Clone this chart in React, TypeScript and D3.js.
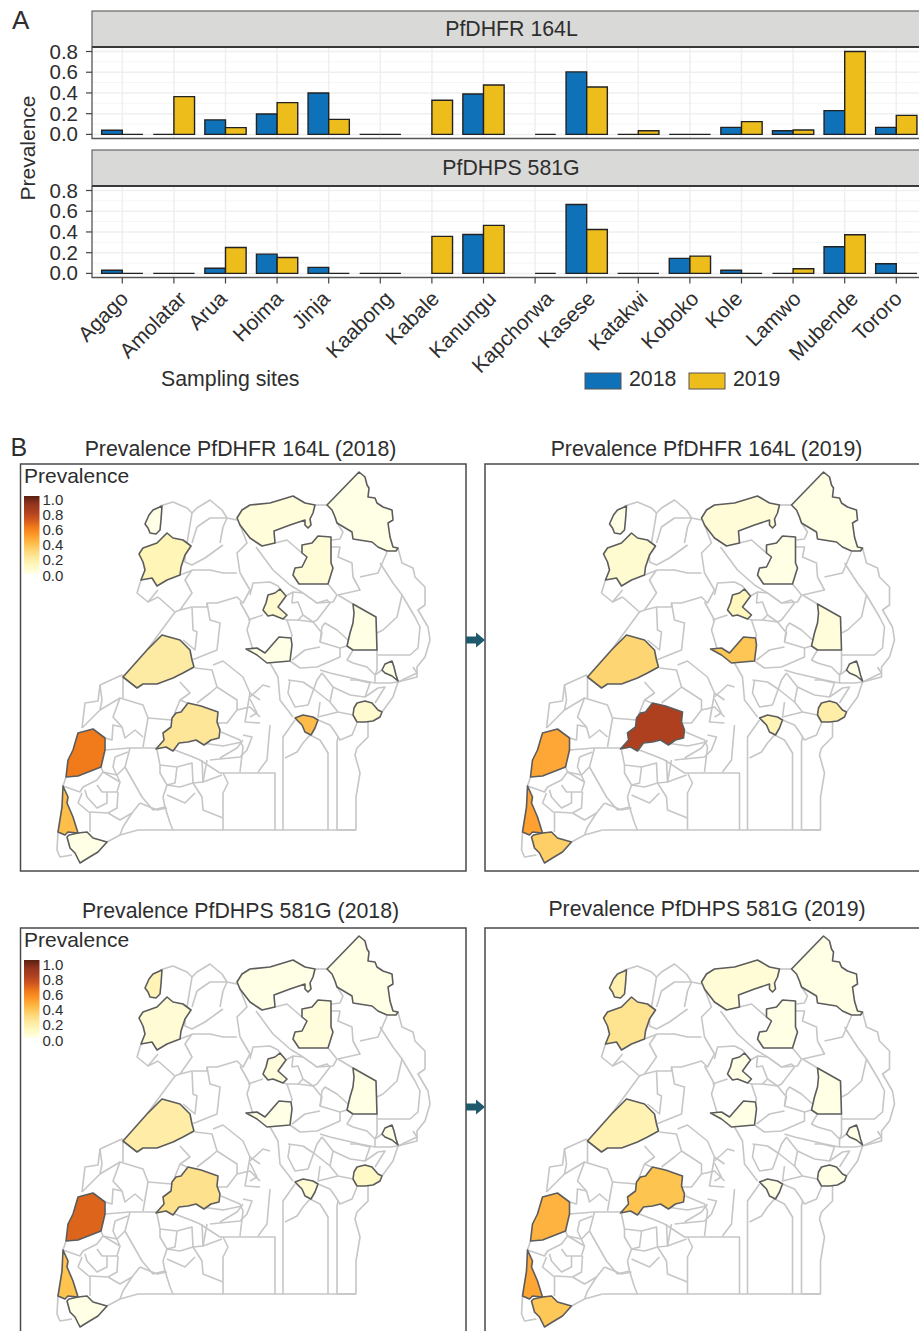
import React, { useEffect, useRef } from 'react';
import * as d3 from 'd3';

const sites = ['Agago', 'Amolatar', 'Arua', 'Hoima', 'Jinja', 'Kaabong', 'Kabale', 'Kanungu', 'Kapchorwa', 'Kasese', 'Katakwi', 'Koboko', 'Kole', 'Lamwo', 'Mubende', 'Tororo'];
const years = ['2018', '2019'];
const yTicks = [0, 0.2, 0.4, 0.6, 0.8];
const yMinorTicks = [0.1, 0.3, 0.5, 0.7];
const legendTicks = [0, 0.2, 0.4, 0.6, 0.8, 1];
const rampColors = ['#ffffe5', '#fff7bc', '#fee391', '#fec44f', '#fe9929', '#ee7318', '#b84520', '#a03820', '#5a2012'];

// null = site not sampled that year
const dhfr2018 = [0.04, 0, 0.14, 0.197, 0.4, 0, null, 0.39, null, 0.603, 0, 0, 0.068, 0.035, 0.229, 0.068];
const dhfr2019 = [0, 0.365, 0.065, 0.307, 0.145, 0, 0.33, 0.477, 0, 0.458, 0.035, 0, 0.123, 0.042, 0.8, 0.184];
const dhps2018 = [0.03, 0, 0.05, 0.186, 0.058, 0, null, 0.376, null, 0.665, 0, 0.145, 0.03, 0, 0.257, 0.093];
const dhps2019 = [0, 0, 0.25, 0.154, 0, 0, 0.357, 0.463, 0, 0.424, 0, 0.167, 0, 0.045, 0.373, 0];

// district outlines, in map units
const districtShapes: { [key: string]: number[][] } = {
  Koboko: [[145, 524], [149, 515], [153, 510], [162, 506], [161, 520], [160, 530], [156, 534], [150, 533], [148, 528]],
  Arua: [[139, 554], [143, 548], [157, 543], [167, 533], [173, 538], [183, 540], [191, 546], [185, 555], [181, 567], [180, 575], [167, 580], [157, 586], [152, 578], [141, 580], [145, 570], [143, 562]],
  Lamwo: [[237, 518], [242, 510], [250, 505], [270, 503], [293, 496], [305, 503], [315, 505], [313, 513], [310, 519], [311, 525], [308, 528], [305, 525], [305, 520], [290, 525], [274, 531], [275, 543], [262, 546], [250, 538], [240, 525]],
  Kaabong: [[327, 505], [359, 472], [365, 477], [367, 485], [369, 488], [368, 497], [375, 498], [377, 503], [383, 507], [392, 510], [393, 520], [388, 523], [390, 537], [393, 547], [398, 548], [396, 551], [387, 551], [378, 547], [372, 542], [353, 539], [352, 532], [337, 523], [335, 517], [332, 510]],
  Agago: [[302, 545], [312, 543], [318, 536], [331, 537], [331, 563], [333, 568], [328, 584], [299, 584], [293, 575], [295, 568], [302, 567], [307, 557], [302, 553]],
  Kole: [[280, 589], [286, 596], [278, 607], [287, 615], [283, 619], [273, 615], [268, 616], [263, 610], [266, 603], [268, 595], [275, 593]],
  Amolatar: [[246, 649], [257, 648], [265, 653], [279, 637], [291, 638], [292, 645], [290, 661], [267, 663], [257, 655]],
  Katakwi: [[353, 604], [376, 617], [377, 650], [353, 650], [347, 646], [350, 633], [353, 623], [354, 613]],
  Kapchorwa: [[382, 670], [385, 664], [392, 661], [394, 667], [396, 675], [398, 681], [392, 676], [385, 673]],
  Tororo: [[353, 715], [354, 708], [357, 703], [365, 701], [372, 703], [378, 710], [382, 712], [380, 717], [373, 721], [365, 722], [357, 722]],
  Jinja: [[295, 718], [303, 715], [313, 717], [318, 720], [315, 728], [311, 735], [305, 732], [302, 725]],
  Hoima: [[123, 677], [137, 688], [143, 684], [157, 684], [173, 678], [183, 673], [194, 667], [192, 660], [190, 650], [180, 640], [162, 635], [147, 650]],
  Mubende: [[156, 749], [164, 740], [163, 733], [171, 727], [172, 718], [176, 713], [181, 712], [188, 703], [201, 706], [218, 712], [217, 722], [220, 730], [219, 738], [211, 740], [204, 745], [196, 740], [188, 742], [179, 743], [173, 751], [166, 747]],
  Kasese: [[66, 777], [68, 760], [73, 750], [78, 733], [93, 729], [105, 738], [105, 750], [101, 767], [78, 776]],
  Kanungu: [[63, 786], [68, 797], [67, 803], [73, 817], [78, 833], [68, 832], [65, 835], [58, 832], [62, 807]],
  Kabale: [[67, 837], [69, 835], [78, 833], [87, 832], [93, 838], [107, 842], [98, 852], [88, 858], [80, 863], [75, 853], [70, 848]],
};

// grey boundaries of the other districts, in map units
const boundaryLines: number[][][] = [
  [[160, 506], [173, 502], [187, 508], [192, 513], [197, 508], [210, 500], [222, 510], [227, 518], [237, 520]],
  [[192, 513], [187, 543]],
  [[192, 543], [197, 527], [210, 518], [227, 518], [223, 527], [220, 543]],
  [[185, 555], [185, 562], [192, 565], [205, 558], [223, 545]],
  [[180, 575], [193, 570], [210, 570], [223, 573], [237, 573]],
  [[240, 525], [247, 543], [237, 553], [240, 573]],
  [[141, 580], [137, 593], [148, 602], [158, 590]],
  [[158, 597], [175, 612], [180, 610], [192, 593], [185, 580], [192, 570]],
  [[148, 602], [158, 597]],
  [[175, 612], [147, 650]],
  [[192, 607], [193, 630], [197, 632], [195, 650], [183, 640]],
  [[180, 610], [192, 607], [207, 607], [207, 603], [217, 603], [237, 597], [243, 603], [250, 590], [240, 573]],
  [[207, 603], [210, 620], [220, 623], [217, 650], [192, 660]],
  [[248, 620], [263, 615]],
  [[240, 602], [250, 620], [247, 630], [253, 650]],
  [[315, 505], [327, 505]],
  [[337, 523], [343, 532], [340, 539], [332, 540]],
  [[331, 547], [340, 547], [338, 557], [352, 563], [353, 577], [360, 590], [338, 595]],
  [[256, 547], [273, 570], [290, 585]],
  [[275, 543], [287, 540], [302, 553]],
  [[328, 584], [337, 595], [333, 602], [317, 603], [303, 593], [290, 585]],
  [[360, 577], [378, 573], [387, 552]],
  [[380, 563], [393, 583], [402, 595], [397, 617], [383, 630], [377, 633]],
  [[398, 548], [402, 563], [413, 568], [415, 577], [425, 587], [425, 605], [418, 610], [428, 627], [430, 640], [425, 657], [417, 667], [417, 677], [398, 682]],
  [[402, 595], [415, 617], [420, 627], [418, 648], [410, 655], [397, 655], [377, 655]],
  [[338, 595], [353, 604]],
  [[347, 646], [340, 648], [320, 642], [322, 627], [325, 623], [337, 630], [348, 640]],
  [[250, 595], [253, 583], [270, 582], [278, 586], [280, 589]],
  [[286, 596], [293, 592], [303, 593]],
  [[293, 592], [292, 603], [298, 602], [303, 615], [298, 620], [287, 620], [283, 619]],
  [[317, 603], [327, 600], [330, 603], [317, 620], [313, 622], [303, 615]],
  [[298, 620], [313, 622], [322, 633], [320, 642]],
  [[287, 620], [292, 635], [291, 638]],
  [[292, 660], [305, 650], [320, 647]],
  [[290, 661], [300, 668], [317, 667], [340, 657], [340, 648]],
  [[353, 650], [347, 660], [353, 663], [367, 667], [375, 675]],
  [[377, 650], [377, 670], [375, 675]],
  [[270, 663], [278, 677], [280, 700], [293, 717]],
  [[290, 680], [288, 693], [295, 707], [308, 705], [317, 680], [322, 673]],
  [[288, 680], [303, 682], [315, 690], [330, 702], [338, 712]],
  [[322, 673], [333, 687], [330, 702]],
  [[320, 702], [318, 717], [338, 712], [353, 715]],
  [[333, 687], [350, 695], [365, 697], [378, 688], [385, 687], [375, 703]],
  [[350, 680], [357, 680], [370, 683], [365, 697]],
  [[320, 670], [330, 673], [360, 680], [375, 683], [390, 683], [398, 682]],
  [[382, 670], [375, 675], [375, 683]],
  [[398, 682], [417, 673], [413, 667]],
  [[398, 682], [393, 697], [382, 712]],
  [[318, 720], [330, 725], [335, 732], [340, 740], [352, 735], [357, 723]],
  [[368, 722], [368, 737], [357, 748], [355, 755], [360, 773], [356, 797], [356, 830], [337, 830], [337, 742], [338, 737]],
  [[310, 735], [320, 740], [328, 753], [328, 830]],
  [[295, 720], [283, 737], [283, 830]],
  [[310, 735], [303, 743], [297, 752], [285, 758]],
  [[223, 773], [275, 773], [275, 830]],
  [[138, 830], [356, 830]],
  [[270, 725], [267, 760], [258, 772]],
  [[250, 699], [257, 713], [250, 717]],
  [[250, 697], [263, 685], [270, 687]],
  [[123, 677], [122, 675], [100, 685], [98, 701], [85, 703], [82, 728]],
  [[100, 710], [82, 728]],
  [[100, 685], [102, 700], [100, 710], [120, 698], [143, 705], [148, 718], [143, 747]],
  [[123, 677], [123, 698]],
  [[120, 698], [113, 717], [122, 727], [125, 738], [135, 730], [143, 737]],
  [[148, 718], [172, 720]],
  [[105, 738], [112, 740], [113, 725], [122, 727]],
  [[105, 750], [130, 748], [157, 748]],
  [[130, 748], [125, 767], [142, 797], [153, 810], [165, 807], [163, 797], [167, 785]],
  [[157, 750], [160, 765], [177, 767], [175, 783], [167, 785], [160, 773], [160, 765]],
  [[167, 747], [193, 757], [200, 760], [220, 773], [223, 773]],
  [[177, 767], [192, 763], [193, 783], [203, 782], [202, 760]],
  [[207, 760], [203, 782], [222, 775]],
  [[167, 785], [180, 787], [193, 783], [202, 797], [203, 810], [223, 818]],
  [[167, 795], [185, 803], [195, 793]],
  [[165, 807], [170, 823], [173, 830]],
  [[120, 835], [138, 830]],
  [[223, 773], [228, 783], [223, 793], [223, 830]],
  [[66, 777], [63, 786], [80, 792], [83, 787], [97, 780], [103, 772], [101, 767]],
  [[103, 772], [117, 775], [125, 767]],
  [[115, 757], [128, 752]],
  [[115, 757], [113, 767], [120, 782], [103, 772]],
  [[97, 785], [102, 792], [117, 792], [120, 782]],
  [[118, 792], [117, 808], [108, 813], [90, 812]],
  [[82, 793], [78, 803], [90, 813], [90, 832]],
  [[107, 792], [107, 803], [97, 808], [87, 797], [85, 790]],
  [[108, 813], [120, 820], [132, 813], [140, 803]],
  [[132, 813], [123, 827], [120, 835]],
  [[140, 803], [157, 810], [167, 808]],
  [[107, 842], [120, 835]],
  [[58, 832], [57, 850], [60, 857], [72, 855]],
  [[217, 723], [227, 723], [237, 710], [250, 707], [260, 717]],
  [[180, 682], [190, 693], [180, 700], [172, 720]],
  [[180, 700], [187, 703]],
  [[195, 668], [212, 670], [217, 687], [210, 693], [197, 703]],
  [[217, 687], [237, 700], [237, 710]],
  [[213, 665], [223, 661], [243, 677], [250, 693], [260, 700]],
  [[250, 693], [245, 722], [260, 723]],
  [[221, 732], [240, 740], [243, 747], [240, 772]],
  [[243, 735], [252, 737], [247, 750], [240, 757], [210, 760]],
  [[220, 758], [237, 748], [243, 740]],
  [[202, 743], [223, 746], [242, 742]],
];

const font = '"Liberation Sans", Arial, sans-serif';
const inkColor = '#2e2e2e';
const yearColors = ['#0f71b8', '#edbd1c'];

const App: React.FC = () => {
  const chartRef = useRef<SVGSVGElement | null>(null);

  useEffect(() => {
    renderChart();
  }, []);

  const renderChart = () => {
    d3.select(chartRef.current).selectAll('*').remove();
    const svg = d3.select(chartRef.current).attr('width', 919).attr('height', 1331);

    const addText = (x: number, y: number, label: string, size: number, anchor = 'start') =>
      svg.append('text')
        .attr('x', x)
        .attr('y', y)
        .attr('text-anchor', anchor)
        .attr('font-family', font)
        .attr('font-size', size)
        .attr('fill', inkColor)
        .text(label);

    // --- panel A: bars ---
    const x = d3.scaleBand<string>()
      .domain(sites)
      .range([96.5, 922.1])
      .paddingInner(0.2)
      .paddingOuter(0.1);
    const xYear = d3.scaleBand<string>().domain(years).range([0, x.bandwidth()]);
    const panelLeft = 92;
    const panelRight = 919;

    const drawFacet = (title: string, titleX: number, top: number, values: (number | null)[][], showX: boolean) => {
      const stripBottom = top + 36;
      const bottom = stripBottom + 91.5;
      const y = d3.scaleLinear().domain([0, 0.8]).range([stripBottom + 87.4, stripBottom + 4.5]);
      const g = svg.append('g');

      g.append('rect')
        .attr('x', panelLeft).attr('y', top)
        .attr('width', panelRight - panelLeft + 4).attr('height', 36)
        .attr('fill', '#d9d9d8').attr('stroke', '#666').attr('stroke-width', 1.2);

      yMinorTicks.forEach(t => {
        g.append('line').attr('x1', panelLeft).attr('x2', panelRight).attr('y1', y(t)).attr('y2', y(t))
          .attr('stroke', '#f5f5f5').attr('stroke-width', 1);
      });
      yTicks.forEach(t => {
        g.append('line').attr('x1', panelLeft).attr('x2', panelRight).attr('y1', y(t)).attr('y2', y(t))
          .attr('stroke', '#efefef').attr('stroke-width', 1.5);
      });
      sites.forEach(s => {
        const cx = x(s)! + x.bandwidth() / 2;
        g.append('line').attr('x1', cx).attr('x2', cx).attr('y1', stripBottom).attr('y2', bottom)
          .attr('stroke', '#efefef').attr('stroke-width', 1.5);
      });

      values.forEach((series, i) => {
        sites.forEach((s, j) => {
          const v = series[j];
          if (v === null) return;
          const x0 = x(s)! + xYear(years[i])!;
          // path rather than rect, a zero bar still shows as a dark line
          g.append('path')
            .attr('d', `M${x0},${y(0)}V${y(v)}H${x0 + xYear.bandwidth()}V${y(0)}Z`)
            .attr('fill', yearColors[i])
            .attr('stroke', '#222')
            .attr('stroke-width', 1.4);
        });
      });

      g.append('line').attr('x1', panelLeft).attr('x2', panelRight).attr('y1', stripBottom).attr('y2', stripBottom)
        .attr('stroke', '#3a3a3a').attr('stroke-width', 1.8);
      g.append('path')
        .attr('d', `M${panelLeft},${stripBottom}V${bottom}H${panelRight}`)
        .attr('fill', 'none').attr('stroke', '#555').attr('stroke-width', 1.3);

      yTicks.forEach(t => {
        g.append('line').attr('x1', panelLeft - 6).attr('x2', panelLeft).attr('y1', y(t)).attr('y2', y(t))
          .attr('stroke', '#444').attr('stroke-width', 1.2);
        addText(78, y(t) + 7, t.toFixed(1), 20.5, 'end');
      });

      addText(titleX, top + 25, title, 21.3, 'middle');

      if (showX) {
        sites.forEach(s => {
          const cx = x(s)! + x.bandwidth() / 2;
          g.append('line').attr('x1', cx).attr('x2', cx).attr('y1', bottom).attr('y2', bottom + 6)
            .attr('stroke', '#444').attr('stroke-width', 1.2);
          const label = svg.append('text')
            .attr('text-anchor', 'end')
            .attr('font-family', font)
            .attr('font-size', 21)
            .attr('fill', inkColor)
            .text(s);
          // longer names sit further right of their tick, tops stay level
          const len = (label.node() as SVGTextElement).getComputedTextLength();
          label.attr('transform', `translate(${cx + len * 0.277 - 9.5},${bottom + 22.5}) rotate(-45)`);
        });
      }
    };

    drawFacet('PfDHFR 164L', 511.5, 11, [dhfr2018, dhfr2019], false);
    drawFacet('PfDHPS 581G', 511, 150, [dhps2018, dhps2019], true);

    addText(12, 29, 'A', 26);
    addText(10.5, 456, 'B', 25);
    addText(0, 0, 'Prevalence', 21, 'middle')
      .attr('transform', 'translate(35,148) rotate(-90)')
      .attr('x', 0).attr('y', 0);
    addText(161, 386, 'Sampling sites', 21.3);

    const legendX = [585, 689];
    const legendLabelX = [629, 733];
    years.forEach((yr, i) => {
      svg.append('rect')
        .attr('x', legendX[i]).attr('y', 373)
        .attr('width', 36).attr('height', 16)
        .attr('fill', yearColors[i]).attr('stroke', '#555').attr('stroke-width', 1);
      addText(legendLabelX[i], 386, yr, 21.3);
    });

    // --- panel B: maps ---
    const color = d3.scaleSequential(d3.piecewise(d3.interpolateRgb, rampColors)).domain([0, 1]);

    const defs = svg.append('defs');
    const gradient = defs.append('linearGradient')
      .attr('id', 'prevalence-ramp')
      .attr('x1', 0).attr('x2', 0).attr('y1', 1).attr('y2', 0);
    d3.range(0, 1.01, 0.1).forEach(t => {
      gradient.append('stop').attr('offset', t).attr('stop-color', color(t));
    });

    const drawMap = (title: string, titleX: number, titleY: number, left: number, top: number, width: number, height: number, values: (number | null)[], legendNudge: number | null) => {
      addText(titleX, titleY, title, 21.3, 'middle');

      const dx = left - 20.5;
      const dy = top - 464;
      const mapX = d3.scaleLinear().domain([0, 919]).range([dx, 919 + dx]);
      const mapY = d3.scaleLinear().domain([0, 1331]).range([dy, 1331 + dy]);
      const line = d3.line<number[]>().x(d => mapX(d[0])).y(d => mapY(d[1]));

      const g = svg.append('g');
      g.append('rect')
        .attr('x', left).attr('y', top)
        .attr('width', width).attr('height', height)
        .attr('fill', '#fff').attr('stroke', '#4a4a4a').attr('stroke-width', 1.5);

      boundaryLines.forEach(b => {
        g.append('path')
          .attr('d', line(b))
          .attr('fill', 'none')
          .attr('stroke', '#c6c6c6')
          .attr('stroke-width', 1.6)
          .attr('stroke-linejoin', 'round');
      });

      sites.forEach((s, i) => {
        g.append('path')
          .attr('d', line(districtShapes[s]) + 'Z')
          .attr('fill', color(values[i] ?? 0))
          .attr('stroke', '#5c5c5c')
          .attr('stroke-width', 1.6)
          .attr('stroke-linejoin', 'round');
      });

      if (legendNudge !== null) {
        addText(left + 3.5, top + 19, 'Prevalence', 21);
        const legendY = d3.scaleLinear().domain([0, 1]).range([top + 111 + legendNudge, top + 35 + legendNudge]);
        g.append('rect')
          .attr('x', left + 3.5).attr('y', top + 32)
          .attr('width', 15.5).attr('height', 78)
          .attr('fill', 'url(#prevalence-ramp)');
        legendTicks.forEach(t => {
          addText(left + 22, legendY(t) + 5.5, t.toFixed(1), 15);
        });
      }
    };

    drawMap('Prevalence PfDHFR 164L (2018)', 240.5, 456, 20.5, 464, 445.5, 407, dhfr2018, 0);
    drawMap('Prevalence PfDHFR 164L (2019)', 706.5, 456, 485, 464, 440, 407, dhfr2019, null);
    drawMap('Prevalence PfDHPS 581G (2018)', 240.5, 918, 20.5, 928, 445.5, 407, dhps2018, 1);
    drawMap('Prevalence PfDHPS 581G (2019)', 707, 916, 485, 928, 440, 407, dhps2019, null);

    // arrows between the maps
    [640, 1107].forEach(cy => {
      svg.append('path')
        .attr('d', `M466,${cy - 3.5}H476V${cy - 7.5}L485,${cy}L476,${cy + 7.5}V${cy + 3.5}H466Z`)
        .attr('fill', '#1f5a6c');
    });
  };

  return (
    <div>
      <svg ref={chartRef} style={{ position: 'absolute', left: 0, top: 0 }}></svg>
    </div>
  );
};

export default App;
